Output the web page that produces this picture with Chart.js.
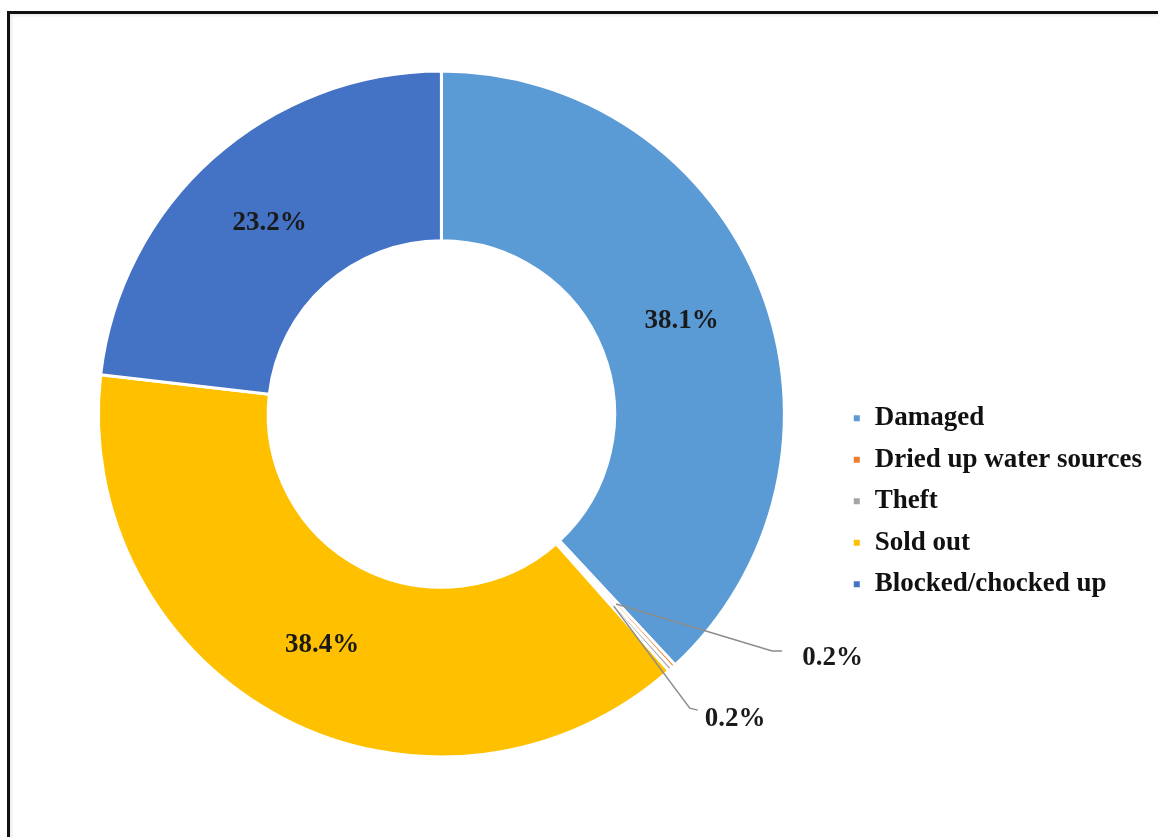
<!DOCTYPE html>
<html lang="en">
<head>
<meta charset="UTF-8">
<title>Status of water sources</title>
<script src="https://cdn.jsdelivr.net/npm/chart.js"></script>
<style>
  body { margin: 0; background: #fff; overflow: hidden; }
  .frame { position: absolute; left: 7px; top: 11px; width: 1200px; height: 900px;
           border-top: 3px solid #111; border-left: 3px solid #111; box-shadow: inset 2px 2px 3px rgba(0,0,0,0.08); }
  .wrap { position: absolute; left: 0; top: 0; width: 1158px; height: 837px; }
</style>
</head>
<body>
<div class="frame"></div>
<div class="wrap"><canvas id="donut"></canvas></div>
<script>
const categories = ['Damaged', 'Dried up water sources', 'Theft', 'Sold out', 'Blocked/chocked up'];
const shares = [38.1, 0.2, 0.2, 38.4, 23.2];
const colors = ['#5B9BD5', '#ED7D31', '#A5A5A5', '#FFC000', '#4472C4'];

// leader lines for the thin slices: elbow, line end and text position relative to the slice centre
const callouts = [
  null,
  { elbow: [156, 47], end: [166, 47], text: [186, 54] },
  { elbow: [76, 102], end: [84, 104], text: [91, 113] },
  null,
  null
];

const serif = '"Liberation Serif", "Times New Roman", serif';

const sliceLabels = {
  id: 'sliceLabels',
  afterDatasetsDraw(chart) {
    const ctx = chart.ctx;
    const arcs = chart.getDatasetMeta(0).data;
    ctx.save();
    ctx.font = 'bold 27px ' + serif;
    ctx.fillStyle = '#1a1a1a';
    ctx.textBaseline = 'middle';
    arcs.forEach((arc, i) => {
      const text = shares[i].toFixed(1) + '%';
      const p = arc.tooltipPosition();
      const c = callouts[i];
      if (!c) {
        ctx.textAlign = 'center';
        ctx.fillText(text, p.x, p.y + 2);
        return;
      }
      ctx.strokeStyle = '#8c8c8c';
      ctx.lineWidth = 1.5;
      ctx.beginPath();
      ctx.moveTo(p.x, p.y);
      ctx.lineTo(p.x + c.elbow[0], p.y + c.elbow[1]);
      ctx.lineTo(p.x + c.end[0], p.y + c.end[1]);
      ctx.stroke();
      ctx.textAlign = 'left';
      ctx.fillText(text, p.x + c.text[0], p.y + c.text[1]);
    });
    ctx.restore();
  }
};

new Chart(document.getElementById('donut'), {
  type: 'doughnut',
  data: {
    labels: categories,
    datasets: [{
      data: shares,
      backgroundColor: colors,
      borderColor: '#ffffff',
      borderWidth: 3
    }]
  },
  options: {
    responsive: true,
    maintainAspectRatio: false,
    animation: false,
    events: [],
    radius: 343,
    cutout: '50.5%',
    layout: { padding: { left: 45, right: 6, bottom: 9 } },
    plugins: {
      tooltip: { enabled: false },
      legend: {
        position: 'right',
        title: { display: true, text: '', padding: { top: 160, bottom: 0 } },
        labels: {
          boxWidth: 9,
          boxHeight: 9,
          padding: 14.5,
          color: '#111',
          font: { family: serif, size: 27, weight: 'bold' }
        }
      }
    }
  },
  plugins: [sliceLabels]
});
</script>
</body>
</html>
